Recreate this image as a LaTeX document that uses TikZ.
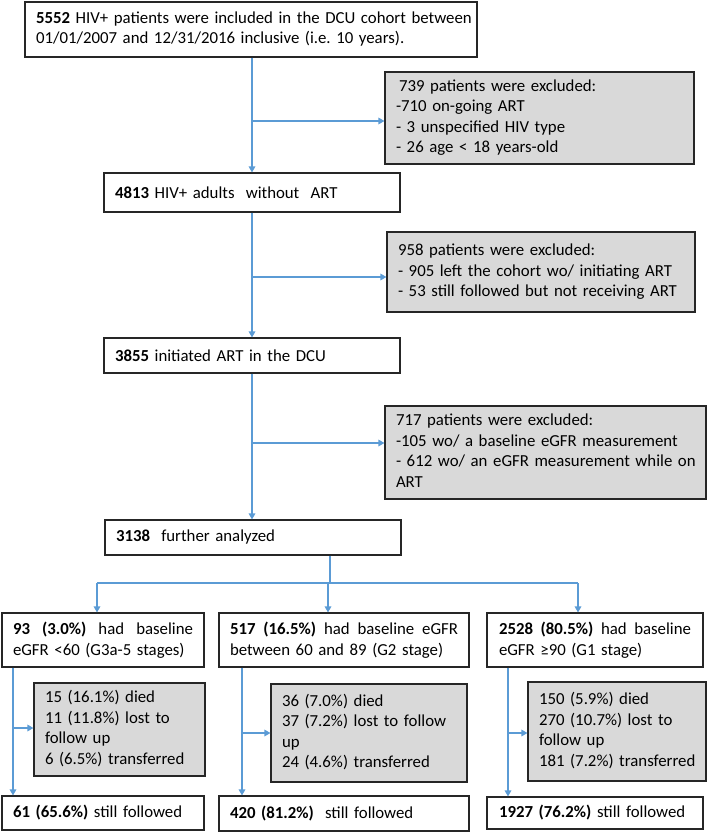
\documentclass[tikz,border=0pt]{standalone}
\usepackage{fontspec}
\setmainfont{Carlito}
\usetikzlibrary{arrows.meta}
\definecolor{lblue}{HTML}{5B9BD5}
\definecolor{lgray}{HTML}{D9D9D9}
\hyphenpenalty=10000
\exhyphenpenalty=10000
\newcommand{\linesof}[1]{\begin{tabular}{@{}l@{}}#1\end{tabular}}
\begin{document}
\begin{tikzpicture}[x=1pt,y=-1pt,
  box/.style={draw=black!85, line width=1.1pt, fill=white, inner xsep=11pt, inner ysep=1pt,
    font=\fontsize{16.8}{20.5}\selectfont, align=left},
  gbox/.style={box, fill=lgray},
  conn/.style={draw=lblue, line width=1.4pt},
  arr/.style={conn, -{Triangle[length=6pt,width=6.5pt]}}]
\useasboundingbox (0,0) rectangle (709,834);
\newcommand{\bx}[7]{\node[#1, minimum width=#4pt, minimum height=#5pt, text width=#6pt] (#2) at #3 {#7};}
% top chain
\bx{box}{b1}{(251,29.5)}{452}{55}{430}{\linesof{\textbf{5552} HIV+ patients were included in the DCU cohort between\\01/01/2007 and 12/31/2016 inclusive (i.e.\ 10 years).}}
\bx{gbox}{g1}{(539.5,118)}{309}{92}{287}{\linesof{\hspace{3pt}739 patients were excluded:\\-710 on-going ART\\- 3 unspecified HIV type\\- 26 age < 18 years-old}}
\bx{box}{n2}{(252,192.5)}{294}{39}{274}{\textbf{4813} HIV+ adults\ \ without\ \ ART}
\bx{gbox}{g2}{(541,272)}{308}{80}{286}{\linesof{958 patients were excluded:\\- 905 left the cohort wo/ initiating ART\\- 53 still followed but not receiving ART}}
\bx{box}{n3}{(252,355.5)}{296}{35}{274}{\textbf{3855} initiated ART in the DCU}
\bx{gbox}{g3}{(545.5,452.5)}{321}{93}{299}{\linesof{717 patients were excluded:\\-105 wo/ a baseline eGFR measurement\\- 612 wo/ an eGFR measurement while on\\ART}}
\bx{box}{n4}{(253,537.5)}{296}{35}{274}{\textbf{3138}\ \ further analyzed}
% three groups
\bx{box}{A}{(103,640)}{202}{54}{180}{\textbf{93\hfill(3.0\%)}\hfill had\hfill baseline\\eGFR <60 (G3a-5 stages)}
\bx{box}{B}{(344,640)}{250}{54}{228}{\textbf{517\hfill(16.5\%)}\hfill had\hfill baseline\hfill eGFR\\between 60 and 89 (G2 stage)}
\bx{box}{C}{(595,640)}{216}{54}{192}{\textbf{2528\hfill(80.5\%)}\hfill had\hfill baseline\\eGFR ≥90 (G1 stage)}
\bx{gbox}{gA}{(119.5,729.5)}{171}{93}{149}{\linesof{15 (16.1\%) died\\11 (11.8\%) lost to\\follow up\\6 (6.5\%) transferred}}
\bx{gbox}{gB}{(369,733)}{196}{98}{174}{\linesof{36 (7.0\%) died\\37 (7.2\%) lost to follow\\up\\24 (4.6\%) transferred}}
\bx{gbox}{gC}{(617,731.5)}{178}{99}{156}{\linesof{150 (5.9\%) died\\270 (10.7\%) lost to\\follow up\\181 (7.2\%) transferred}}
\bx{box}{Ab}{(103,813)}{202}{34}{180}{\textbf{61 (65.6\%)} still followed}
\bx{box}{Bb}{(344,813.5)}{250}{35}{228}{\textbf{420 (81.2\%)}\ \ still followed}
\bx{box}{Cb}{(595,813)}{216}{32}{192}{\textbf{1927 (76.2\%)} still followed}
% connectors: top chain
\coordinate (j1) at (252,121);
\coordinate (j2) at (252,277);
\coordinate (j3) at (252,443);
\draw[arr] (b1.south -| j1) -- (n2.north -| j1);
\draw[arr] (j1) -- (j1 -| g1.west);
\draw[arr] (n2.south -| j2) -- (n3.north -| j2);
\draw[arr] (j2) -- (j2 -| g2.west);
\draw[arr] (n3.south -| j3) -- (n4.north -| j3);
\draw[arr] (j3) -- (j3 -| g3.west);
% split
\coordinate (js) at (330,583);
\coordinate (ja) at (97,583);
\coordinate (jb) at (328,583);
\coordinate (jc) at (578,583);
\draw[conn] (n4.south -| js) -- (js);
\draw[conn] (ja) -- (jc);
\draw[arr] (ja) -- (A.north -| ja);
\draw[arr] (jb) -- (B.north -| jb);
\draw[arr] (jc) -- (C.north -| jc);
% group outcomes
\coordinate (va) at (13,728);
\coordinate (vb) at (242,733);
\coordinate (vc) at (508,733);
\draw[arr] (A.south -| va) -- (Ab.north -| va);
\draw[arr] (va) -- (va -| gA.west);
\draw[arr] (B.south -| vb) -- (Bb.north -| vb);
\draw[arr] (vb) -- (vb -| gB.west);
\draw[arr] (C.south -| vc) -- (Cb.north -| vc);
\draw[arr] (vc) -- (vc -| gC.west);
\end{tikzpicture}
\end{document}
